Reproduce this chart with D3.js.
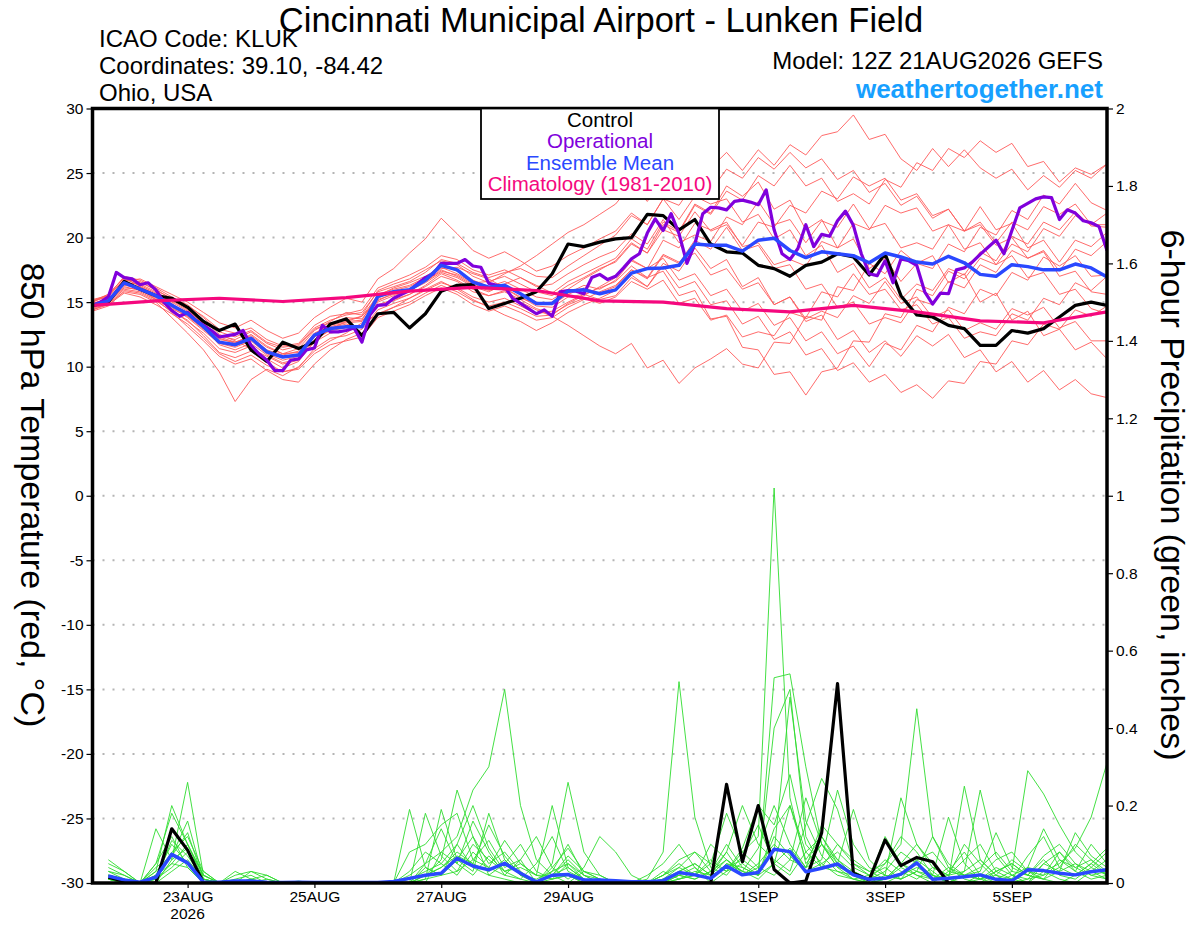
<!DOCTYPE html>
<html>
<head>
<meta charset="utf-8">
<style>
  body { margin: 0; background: #fff; }
  text { font-family: "Liberation Sans", Arial, Helvetica, sans-serif; }
</style>
</head>
<body>
<svg width="1200" height="927"></svg>
<script src="https://d3js.org/d3.v7.min.js"></script>
<script>
// ---- data -------------------------------------------------------------
const runStart = Date.UTC(2026, 7, 21, 12);   // 12Z 21AUG2026
const H = 3600 * 1000;

// 6-hourly, step 0..64
const ctrlTemp = [14.75, 15.0, 16.6, 16.0, 15.5, 15.3, 14.6, 13.5, 12.8, 13.3,
  11.3, 10.4, 11.9, 11.4, 11.9, 13.3, 13.7, 12.4, 14.1, 14.2,
  13.0, 14.1, 15.85, 16.3, 16.35, 14.5, 14.9, 15.3, 15.8, 17.2,
  19.5, 19.3, 19.65, 19.9, 20.0, 21.8, 21.7, 20.6, 21.4, 19.5,
  18.9, 18.8, 17.85, 17.6, 17.0, 17.85, 18.1, 18.75, 18.5, 17.1,
  18.75, 15.5, 14.0, 13.85, 13.2, 12.95, 11.65, 11.65, 12.8, 12.6,
  12.95, 13.85, 14.75, 15.0, 14.75];

const meanTemp = [14.75, 15.1, 16.5, 16.0, 15.5, 14.75, 14.1, 13.1, 11.9, 11.7,
  12.2, 11.15, 10.75, 10.9, 12.45, 12.95, 13.1, 13.1, 15.45, 15.8,
  15.95, 16.7, 17.85, 17.5, 16.55, 16.15, 16.3, 15.65, 14.9, 14.9,
  15.85, 15.95, 15.65, 15.95, 17.25, 17.6, 17.65, 17.85, 19.5, 19.4,
  19.4, 18.95, 19.8, 19.95, 19.0, 18.45, 18.9, 18.75, 18.6, 18.05,
  18.8, 18.5, 18.1, 17.95, 18.55, 18.05, 17.15, 17.0, 17.9, 17.75,
  17.5, 17.5, 17.95, 17.65, 16.95];

// operational run, 3-hourly, step 0..128
const operTemp = [14.75, 15.0, 15.4, 17.3, 16.9, 16.8, 16.35, 16.5, 15.95, 15.0,
  14.35, 13.9, 14.2, 13.6, 13.2, 12.8, 12.3, 12.4, 12.5, 12.8,
  11.65, 11.0, 10.5, 9.7, 9.7, 10.5, 10.6, 11.3, 11.45, 13.2,
  12.7, 12.7, 12.8, 13.0, 11.9, 14.0, 14.75, 14.8, 15.3, 15.6,
  15.9, 16.4, 16.9, 17.2, 18.0, 18.0, 18.0, 18.3, 17.8, 17.7,
  16.45, 16.3, 16.2, 15.3, 14.9, 14.5, 14.1, 14.4, 13.9, 15.8,
  15.9, 15.85, 15.65, 16.9, 17.15, 16.75, 17.0, 17.65, 18.35, 18.75,
  20.35, 21.45, 20.55, 21.85, 20.3, 18.0, 19.5, 21.85, 22.35, 22.3,
  22.15, 22.8, 22.9, 22.75, 22.55, 23.7, 20.6, 18.75, 18.3, 19.15,
  21.0, 19.3, 20.25, 20.1, 21.3, 22.05, 20.95, 18.75, 17.2, 17.05,
  18.2, 16.5, 18.35, 18.2, 17.85, 15.8, 14.85, 15.7, 15.65, 17.5,
  17.65, 18.1, 18.7, 19.25, 19.8, 18.75, 20.55, 22.3, 22.65, 23.0,
  23.15, 23.1, 21.4, 22.15, 21.9, 21.3, 21.15, 20.85, 19.0];

// climatology, daily at 12Z, day 0..16
const climTemp = [14.75, 15.1, 15.3, 15.05, 15.35, 15.85, 16.15, 15.9, 15.1,
  15.0, 14.5, 14.25, 14.75, 14.25, 13.55, 13.4, 14.25];

// ensemble members, 6-hourly, step 0..64
const tempMembers = [
  [14.8, 15.3, 16.4, 16.2, 15.6, 14.9, 14.0, 13.0, 12.2, 11.8, 12.5,
   11.6, 11.0, 11.4, 12.8, 13.5, 14.2, 14.0, 15.9, 16.4, 16.8, 17.5,
   18.2, 17.9, 17.0, 16.5, 17.2, 17.8, 18.6, 19.5, 20.4, 21.0, 21.8,
   22.6, 24.1, 22.8, 24.6, 25.3, 23.9, 25.4, 26.6, 25.2, 26.8,
   25.6, 27.2, 26.4, 27.9, 28.2, 29.5, 27.6, 28.0, 26.1, 25.2,
   26.9, 25.5, 26.8, 25.4, 24.6, 25.3, 23.7, 24.8, 23.9, 25.2, 24.6, 25.7],
  [14.5, 14.9, 15.8, 15.6, 15.0, 13.8, 12.6, 11.3, 9.6, 7.3, 9.0,
   9.8, 9.3, 10.0, 11.2, 12.0, 12.6, 13.4, 14.0, 14.6, 15.3, 16.0,
   16.6, 16.0, 15.2, 14.6, 14.0, 13.5, 12.8, 13.4, 14.2, 14.8, 15.3,
   15.9, 17.1, 16.2, 18.0, 17.4, 19.2, 17.6, 18.3, 16.2, 16.9,
   14.8, 15.4, 13.5, 14.0, 12.1, 12.8, 11.1, 12.0, 10.8, 12.4,
   11.6, 12.5, 10.7, 11.3, 9.6, 10.4, 8.8, 9.7, 8.2, 9.0, 7.9, 7.6],
  [15.0, 15.6, 16.9, 16.5, 16.0, 15.2, 14.5, 13.6, 12.5, 12.0, 11.4,
   10.8, 10.2, 10.5, 11.9, 12.6, 12.8, 13.2, 14.8, 15.2, 15.6, 16.2,
   17.0, 16.6, 15.8, 15.5, 15.9, 15.0, 14.4, 13.9, 13.2, 12.4, 11.6,
   11.0, 11.8, 9.9, 10.5, 8.7, 9.9, 10.6, 11.4, 10.2, 9.9,
   11.9, 11.8, 13.9, 13.6, 16.2, 15.9, 18.0, 17.2, 19.0, 18.0,
   18.6, 16.5, 17.2, 15.0, 15.7, 13.6, 14.3, 12.4, 12.9, 11.3, 11.9, 10.6],
  [14.9, 15.2, 16.6, 16.8, 16.2, 15.6, 15.0, 14.2, 13.4, 13.0, 13.6,
   12.8, 12.2, 12.6, 13.8, 14.6, 15.3, 15.0, 16.8, 17.6, 18.8, 19.9,
   21.5, 20.3, 19.0, 18.4, 18.9, 18.2, 17.4, 17.8, 18.6, 19.2, 19.9,
   20.5, 21.9, 21.0, 23.0, 21.4, 23.2, 22.6, 23.0, 21.2, 21.8,
   19.9, 20.6, 18.6, 19.4, 17.3, 18.0, 16.1, 16.9, 15.2, 16.4,
   15.9, 17.6, 17.1, 18.9, 18.2, 20.1, 19.5, 21.2, 20.6, 22.0, 20.9, 20.8],
  [14.6, 15.0, 16.2, 15.9, 15.3, 14.4, 13.5, 12.6, 11.4, 11.1, 11.6,
   10.6, 9.9, 10.4, 12.0, 12.9, 13.5, 13.9, 15.2, 15.6, 15.9, 16.5,
   17.3, 16.9, 16.2, 15.8, 16.4, 16.9, 16.3, 15.7, 16.6, 17.2, 17.8,
   18.4, 19.9, 19.1, 21.2, 20.5, 22.6, 21.9, 24.0, 23.2, 24.3,
   22.2, 22.9, 20.6, 21.4, 19.2, 19.9, 17.6, 18.4, 16.6, 18.0,
   17.6, 19.5, 18.9, 20.8, 20.2, 22.1, 21.4, 23.3, 22.6, 24.2, 22.7, 22.1],
  [15.1, 15.4, 16.8, 16.3, 15.7, 15.0, 14.3, 13.4, 12.3, 11.9, 12.3,
   11.3, 10.9, 11.2, 12.6, 13.2, 13.5, 13.6, 15.6, 16.0, 16.3, 16.9,
   17.9, 17.4, 16.7, 16.2, 16.6, 16.0, 15.4, 15.2, 16.0, 16.8, 17.5,
   18.2, 19.6, 18.8, 21.0, 20.4, 22.5, 21.8, 23.6, 22.9, 24.8,
   24.0, 25.6, 24.0, 24.6, 22.8, 23.4, 22.6, 24.5, 23.9, 25.8,
   25.2, 26.9, 26.2, 27.5, 26.6, 27.3, 25.5, 25.9, 24.3, 25.4, 24.9, 25.7],
  [14.4, 14.8, 15.7, 15.4, 14.8, 14.1, 13.3, 12.2, 11.0, 10.4, 10.9,
   10.1, 9.6, 9.9, 11.4, 12.2, 12.4, 12.9, 14.4, 14.9, 15.3, 15.9,
   16.5, 16.1, 15.4, 15.0, 15.3, 14.7, 14.1, 14.3, 15.0, 15.6, 16.1,
   16.6, 17.8, 16.9, 17.4, 15.5, 15.9, 13.7, 13.9, 11.5, 11.3,
   9.4, 9.6, 7.8, 9.6, 9.9, 12.0, 11.9, 14.1, 13.8, 16.0,
   15.5, 17.4, 16.8, 18.4, 17.9, 18.6, 16.9, 17.3, 15.6, 16.0, 14.5, 14.1],
  [14.7, 15.1, 16.3, 16.1, 15.4, 14.6, 13.8, 12.8, 11.8, 11.5, 12.0,
   11.0, 10.5, 10.8, 12.3, 13.0, 13.3, 13.0, 15.0, 15.5, 15.9, 16.6,
   17.4, 17.1, 16.4, 16.0, 16.1, 15.4, 14.7, 14.6, 15.4, 15.6, 15.2,
   15.5, 16.9, 16.2, 17.8, 16.1, 16.6, 14.8, 15.1, 13.3, 13.9,
   12.1, 12.7, 10.9, 11.4, 9.7, 10.3, 8.8, 9.4, 8.0, 8.6,
   7.55, 8.9, 8.7, 10.4, 10.2, 12.0, 11.7, 13.3, 12.9, 14.4, 13.9, 14.7],
  [15.2, 15.5, 17.0, 16.7, 16.1, 15.4, 14.7, 13.9, 12.9, 12.6, 13.0,
   12.1, 11.6, 11.8, 13.2, 13.9, 14.1, 14.4, 16.1, 16.6, 17.1, 17.7,
   18.6, 18.3, 17.5, 17.1, 17.5, 16.9, 16.2, 16.4, 17.2, 17.9, 18.5,
   19.0, 20.3, 19.5, 21.4, 19.6, 20.2, 19.7, 21.6, 21.0, 22.8,
   21.0, 21.4, 19.6, 21.3, 20.8, 22.6, 20.7, 21.1, 19.2, 19.6,
   19.1, 21.0, 20.5, 22.4, 20.6, 21.1, 19.2, 19.8, 18.1, 19.8, 19.3, 20.4],
  [14.3, 14.7, 15.9, 15.7, 15.1, 14.3, 13.6, 12.4, 11.1, 10.7, 11.2,
   10.3, 9.6, 9.8, 11.0, 11.7, 12.0, 12.3, 13.8, 14.3, 14.8, 15.5,
   16.1, 15.6, 14.8, 14.3, 14.7, 14.2, 13.6, 13.8, 14.6, 15.2, 15.8,
   16.3, 17.5, 16.8, 18.6, 18.0, 19.8, 19.1, 20.8, 19.0, 19.4,
   17.6, 17.9, 16.0, 16.4, 14.6, 15.0, 13.3, 13.8, 13.4, 15.2,
   14.8, 16.6, 16.1, 17.9, 17.3, 19.0, 18.4, 18.9, 17.0, 17.4, 15.8, 15.6],
  [14.9, 15.3, 16.5, 16.4, 15.8, 15.1, 14.4, 13.3, 12.1, 11.9, 12.4,
   11.5, 11.0, 11.1, 12.5, 13.3, 13.8, 13.7, 15.3, 15.9, 16.2, 16.8,
   17.6, 17.7, 17.2, 16.8, 16.1, 15.3, 14.9, 15.0, 15.7, 16.3, 16.0,
   16.7, 18.2, 17.6, 19.8, 19.2, 21.1, 20.6, 21.2, 19.3, 19.6,
   17.9, 18.3, 17.8, 19.7, 19.2, 21.1, 20.6, 22.5, 21.9, 22.3,
   20.5, 21.0, 19.1, 19.6, 17.9, 19.5, 18.9, 20.7, 20.1, 21.7, 21.0, 21.9],
  [14.6, 15.0, 16.1, 16.0, 15.2, 14.5, 13.9, 13.0, 11.7, 11.3, 11.8,
   10.9, 10.3, 10.6, 12.1, 12.8, 13.0, 13.1, 14.7, 15.1, 15.6, 16.3,
   17.2, 16.7, 16.0, 15.5, 15.8, 15.2, 14.5, 14.1, 14.8, 15.3, 14.9,
   15.4, 16.6, 16.0, 16.7, 14.9, 15.3, 13.6, 14.0, 12.3, 12.7,
   12.4, 14.2, 13.8, 15.8, 15.4, 17.2, 15.6, 16.0, 14.4, 14.8,
   13.3, 13.8, 12.2, 12.7, 12.4, 14.1, 13.6, 15.3, 14.8, 16.5, 15.9, 17.0],
  [15.0, 15.5, 16.7, 16.6, 15.9, 15.3, 14.8, 13.8, 12.7, 12.3, 12.8,
   11.9, 11.5, 11.7, 13.0, 13.6, 14.0, 14.2, 15.8, 16.2, 16.6, 17.3,
   18.3, 18.0, 17.3, 16.9, 17.3, 17.6, 17.0, 16.9, 17.8, 18.6, 19.4,
   20.2, 21.7, 21.0, 23.0, 22.5, 24.3, 23.6, 25.3, 24.6, 26.2,
   25.3, 26.6, 25.4, 26.1, 24.5, 25.2, 23.5, 24.2, 22.5, 23.2,
   21.5, 22.2, 20.5, 21.2, 19.6, 21.2, 20.6, 22.4, 21.8, 22.6, 21.0, 21.0],
  [14.4, 14.9, 16.0, 15.8, 15.2, 14.2, 13.1, 12.0, 10.8, 10.2, 10.6,
   9.7, 9.0, 8.8, 10.2, 11.3, 12.1, 12.6, 14.1, 14.6, 15.0, 15.7,
   16.3, 15.8, 15.1, 14.7, 15.0, 14.5, 13.9, 14.0, 14.9, 15.5, 16.2,
   16.9, 18.3, 17.6, 18.4, 16.7, 17.2, 15.5, 16.0, 14.3, 14.9,
   13.2, 13.8, 12.0, 12.7, 11.0, 11.6, 10.0, 11.8, 11.3, 13.2,
   12.7, 14.6, 14.1, 16.0, 15.5, 17.3, 16.7, 18.5, 17.8, 18.6, 17.0, 17.1],
  [15.1, 15.6, 16.9, 16.2, 15.6, 14.8, 14.2, 13.3, 12.4, 12.1, 12.7,
   11.8, 11.3, 11.6, 12.9, 13.4, 13.6, 13.9, 15.5, 16.1, 16.5, 17.0,
   17.7, 17.2, 16.5, 16.6, 17.0, 16.4, 15.8, 15.5, 16.3, 16.9, 17.6,
   18.1, 19.5, 18.8, 20.6, 20.1, 22.0, 20.5, 21.0, 19.4, 21.2,
   20.8, 22.5, 21.9, 23.6, 23.0, 24.7, 24.0, 24.6, 22.9, 23.4,
   21.7, 22.2, 20.5, 21.0, 19.4, 20.0, 18.4, 19.0, 17.4, 19.1, 18.6, 19.7],
  [14.8, 15.2, 16.4, 16.0, 15.5, 14.7, 13.9, 12.9, 11.9, 11.6, 12.1,
   11.2, 10.7, 11.0, 12.4, 13.1, 13.4, 13.5, 15.1, 15.7, 16.0, 16.6,
   17.5, 17.0, 16.3, 15.9, 16.2, 15.6, 15.0, 14.8, 15.6, 16.1, 15.7,
   16.2, 17.5, 16.9, 18.7, 18.1, 18.8, 17.1, 17.6, 16.0, 16.5,
   14.8, 15.4, 13.7, 14.3, 13.8, 15.5, 14.9, 16.6, 14.9, 15.4,
   13.8, 14.4, 12.8, 13.4, 12.9, 14.5, 14.0, 14.6, 13.0, 13.5, 12.0, 12.0]
];

// 6-hour precipitation (inches), step 1..64
const ctrlPrecip = [0.015, 0.004, 0, 0, 0.14, 0.085, 0, 0, 0, 0,
  0, 0, 0, 0, 0, 0, 0, 0, 0, 0,
  0, 0, 0, 0, 0, 0, 0, 0, 0, 0,
  0, 0, 0, 0, 0, 0, 0, 0, 0, 0.255,
  0.055, 0.2, 0.035, 0, 0.005, 0.13, 0.515, 0.025, 0.008, 0.111,
  0.045, 0.066, 0.055, 0, 0, 0, 0, 0, 0, 0,
  0, 0, 0, 0];

const meanPrecip = [0.018, 0.008, 0.002, 0.015, 0.074, 0.052, 0.002, 0.002, 0.005, 0.005,
  0.002, 0.001, 0.002, 0.001, 0.001, 0.001, 0.001, 0.001, 0.004, 0.012,
  0.02, 0.025, 0.064, 0.044, 0.034, 0.051, 0.025, 0.003, 0.02, 0.022,
  0.008, 0.008, 0.006, 0.003, 0.003, 0.006, 0.027, 0.021, 0.012, 0.044,
  0.021, 0.027, 0.087, 0.081, 0.029, 0.038, 0.049, 0.021, 0.0095, 0.012,
  0.023, 0.052, 0.0095, 0.012, 0.016, 0.021, 0.0095, 0.006, 0.034, 0.032,
  0.025, 0.021, 0.029, 0.034];

const precipMembers = [
  [0.02, 0.01, 0, 0.05, 0.12, 0.04, 0, 0, 0, 0, 0, 0, 0, 0, 0, 0,
   0, 0, 0, 0.03, 0.08, 0.05, 0.1, 0.04, 0.02, 0.01, 0, 0, 0.03, 0.05, 0.01, 0,
   0, 0, 0.02, 0.05, 0.1, 0.04, 0, 0.03, 0.08, 0.12, 1.02, 0.22, 0.05, 0.1, 0.04, 0.01,
   0, 0, 0.02, 0.06, 0.03, 0, 0, 0.01, 0.04, 0.02, 0, 0.05, 0.08, 0.03, 0.01, 0.02],
  [0.05, 0.03, 0, 0.03, 0.2, 0.1, 0.01, 0, 0.02, 0.03, 0.01, 0, 0, 0, 0, 0,
   0, 0, 0, 0, 0.02, 0.06, 0.24, 0.12, 0.05, 0.08, 0.03, 0, 0.02, 0.06, 0.02, 0,
   0, 0, 0, 0.02, 0.06, 0.08, 0.03, 0.1, 0.04, 0.02, 0.53, 0.54, 0.3, 0.1, 0.06, 0.03,
   0.01, 0.05, 0.12, 0.08, 0.02, 0, 0.03, 0.06, 0.02, 0, 0.01, 0.02, 0.04, 0.1, 0.06, 0.03],
  [0.01, 0, 0, 0.14, 0.06, 0.09, 0, 0, 0, 0.01, 0, 0, 0, 0, 0, 0,
   0, 0, 0, 0.02, 0.05, 0.08, 0.12, 0.24, 0.3, 0.5, 0.2, 0.06, 0.02, 0, 0.03, 0.01,
   0, 0, 0, 0, 0.03, 0.05, 0.02, 0.08, 0.2, 0.1, 0.06, 0.03, 0.15, 0.27, 0.19, 0.05,
   0.02, 0.01, 0.04, 0.02, 0, 0.03, 0.08, 0.02, 0, 0, 0.04, 0.03, 0.01, 0, 0.03, 0.06],
  [0.03, 0.02, 0, 0, 0.06, 0.26, 0.02, 0, 0, 0, 0, 0, 0, 0, 0, 0,
   0, 0, 0, 0.19, 0.04, 0.02, 0.03, 0.06, 0.04, 0.02, 0.01, 0, 0.05, 0.26, 0.08, 0.02,
   0, 0, 0.01, 0.08, 0.52, 0.17, 0.04, 0.02, 0.07, 0.15, 0.05, 0.02, 0.08, 0.12, 0.06, 0.02,
   0, 0.02, 0.22, 0.1, 0.05, 0.01, 0, 0.02, 0.06, 0.08, 0.03, 0.01, 0, 0.02, 0.05, 0.02],
  [0.02, 0.01, 0, 0.02, 0.1, 0.05, 0.01, 0, 0.01, 0.02, 0, 0, 0.005, 0, 0, 0,
   0, 0, 0, 0, 0.18, 0.07, 0.03, 0.1, 0.06, 0.03, 0.05, 0.02, 0.2, 0.04, 0.01, 0,
   0, 0, 0, 0.01, 0.04, 0.02, 0.1, 0.06, 0.03, 0.01, 0.05, 0.2, 0.08, 0.04, 0.1, 0.06,
   0.03, 0.05, 0.1, 0.45, 0.12, 0.04, 0.01, 0, 0.03, 0.05, 0.02, 0.01, 0.06, 0.04, 0.02, 0.01],
  [0.01, 0, 0, 0.01, 0.04, 0.08, 0.03, 0, 0, 0, 0, 0, 0, 0, 0, 0,
   0, 0, 0, 0, 0.01, 0.19, 0.06, 0.12, 0.02, 0.05, 0.1, 0.03, 0.01, 0.02, 0, 0,
   0, 0, 0, 0, 0.02, 0.04, 0.01, 0.05, 0.03, 0.09, 0.2, 0.1, 0.04, 0.06, 0.24, 0.1,
   0.04, 0.02, 0.01, 0.03, 0.01, 0.02, 0.1, 0.05, 0.01, 0.03, 0.29, 0.23, 0.15, 0.08, 0.04, 0.02],
  [0.04, 0.02, 0, 0.03, 0.07, 0.16, 0.01, 0, 0, 0.01, 0.02, 0, 0, 0, 0, 0,
   0, 0, 0, 0, 0.02, 0.04, 0.08, 0.05, 0.15, 0.07, 0.02, 0, 0.04, 0.09, 0.03, 0.01,
   0, 0, 0, 0, 0.01, 0.03, 0.02, 0.06, 0.02, 0.04, 0.08, 0.48, 0.16, 0.07, 0.03, 0.01,
   0, 0.01, 0.05, 0.03, 0.02, 0.01, 0.25, 0.06, 0.02, 0.01, 0, 0.03, 0.05, 0.09, 0.17, 0.31],
  [0.02, 0.01, 0, 0.01, 0.05, 0.1, 0.02, 0, 0, 0, 0.01, 0, 0, 0, 0, 0,
   0, 0, 0, 0, 0.05, 0.14, 0.05, 0.16, 0.08, 0.02, 0.06, 0.12, 0.04, 0.01, 0.04, 0.12,
   0.08, 0.02, 0, 0.02, 0.05, 0.02, 0.06, 0.03, 0.05, 0.02, 0.12, 0.07, 0.03, 0.05, 0.02, 0.01,
   0.02, 0.06, 0.03, 0.01, 0.04, 0.02, 0.03, 0.24, 0.07, 0.02, 0.01, 0.05, 0.03, 0.13, 0.07, 0.04],
  [0.01, 0, 0, 0, 0.03, 0.06, 0.01, 0, 0, 0, 0, 0, 0, 0, 0, 0,
   0, 0, 0, 0, 0.01, 0.02, 0.06, 0.03, 0.18, 0.06, 0.02, 0.01, 0.03, 0.1, 0.02, 0,
   0, 0, 0, 0.01, 0.03, 0.05, 0.02, 0.04, 0.06, 0.03, 0.4, 0.5, 0.12, 0.04, 0.03, 0.02,
   0, 0.01, 0.02, 0.04, 0.02, 0.17, 0.05, 0.01, 0, 0.02, 0.04, 0.14, 0.06, 0.03, 0.1, 0.05],
  [0.03, 0.01, 0, 0.02, 0.08, 0.12, 0.03, 0, 0, 0, 0, 0, 0, 0, 0, 0,
   0, 0, 0, 0, 0.04, 0.02, 0.1, 0.2, 0.09, 0.03, 0.04, 0.02, 0.01, 0.05, 0.02, 0.01,
   0, 0, 0, 0.03, 0.01, 0.02, 0.05, 0.18, 0.08, 0.04, 0.02, 0.06, 0.04, 0.1, 0.05, 0.19,
   0.06, 0.02, 0.01, 0.03, 0.12, 0.05, 0.02, 0.04, 0.08, 0.03, 0.02, 0.06, 0.02, 0.01, 0.04, 0.08],
  [0.02, 0, 0, 0.05, 0.18, 0.1, 0.02, 0, 0.03, 0.01, 0, 0, 0, 0, 0, 0,
   0, 0, 0, 0.01, 0.03, 0.05, 0.02, 0.08, 0.04, 0.11, 0.05, 0.02, 0.02, 0.04, 0.01, 0,
   0, 0, 0, 0, 0.02, 0.01, 0.03, 0.08, 0.02, 0.05, 0.1, 0.06, 0.22, 0.1, 0.04, 0.03,
   0.01, 0.03, 0.08, 0.05, 0.02, 0, 0.02, 0.03, 0.13, 0.04, 0.02, 0.01, 0.03, 0.05, 0.02, 0.03],
  [0.01, 0, 0, 0.02, 0.05, 0.04, 0, 0, 0, 0, 0, 0, 0, 0, 0, 0,
   0, 0, 0, 0, 0.02, 0.04, 0.07, 0.05, 0.03, 0.06, 0.02, 0, 0.01, 0.02, 0, 0,
   0, 0, 0, 0, 0.01, 0.02, 0.01, 0.05, 0.04, 0.02, 0.14, 0.2, 0.06, 0.12, 0.05, 0.02,
   0.01, 0.12, 0.05, 0.02, 0.01, 0.04, 0.02, 0.01, 0.02, 0.06, 0.03, 0.02, 0.08, 0.04, 0.06, 0.02],
  [0.06, 0.03, 0, 0.01, 0.11, 0.07, 0.01, 0, 0, 0.03, 0.02, 0, 0, 0, 0, 0,
   0, 0, 0, 0.08, 0.1, 0.15, 0.18, 0.06, 0.11, 0.04, 0.06, 0, 0.02, 0.07, 0.03, 0.02,
   0, 0, 0, 0.02, 0.04, 0.08, 0.05, 0.03, 0.09, 0.2, 0.15, 0.28, 0.1, 0.05, 0.08, 0.04,
   0.02, 0.04, 0.01, 0.06, 0.08, 0.03, 0.02, 0.01, 0.03, 0.05, 0.02, 0.07, 0.1, 0.05, 0.03, 0.01],
  [0.02, 0.01, 0, 0.04, 0.07, 0.13, 0.01, 0, 0, 0, 0, 0, 0, 0, 0, 0,
   0, 0, 0, 0, 0, 0.08, 0.05, 0.02, 0.07, 0.03, 0.01, 0.05, 0.12, 0.03, 0.01, 0,
   0, 0, 0, 0.01, 0.02, 0.01, 0.03, 0.06, 0.03, 0.02, 0.05, 0.09, 0.04, 0.15, 0.1, 0.05,
   0.03, 0.01, 0.05, 0.1, 0.04, 0.02, 0.06, 0.1, 0.03, 0.01, 0.07, 0.12, 0.04, 0.02, 0.05, 0.09]
];

const tempTicks = [-30, -25, -20, -15, -10, -5, 0, 5, 10, 15, 20, 25, 30];
const precipTicks = [0, 0.2, 0.4, 0.6, 0.8, 1, 1.2, 1.4, 1.6, 1.8, 2];
const dateTicks = ["2026-08-23", "2026-08-25", "2026-08-27", "2026-08-29",
  "2026-09-01", "2026-09-03", "2026-09-05"];

// ---- layout -----------------------------------------------------------
const svg = d3.select("svg");
const plotL = 92.5, plotR = 1107, plotT = 108.5, plotB = 883;

const x = d3.scaleUtc()
  .domain([new Date(runStart), new Date(runStart + 384 * H)])
  .range([plotL, plotR]);
const yT = d3.scaleLinear().domain([-30, 30]).range([plotB, plotT]);
const yP = d3.scaleLinear().domain([0, 2]).range([plotB, plotT]);

svg.append("rect").attr("width", 1200).attr("height", 927).attr("fill", "#fff");

svg.append("defs").append("clipPath").attr("id", "plot")
  .append("rect").attr("x", plotL).attr("y", plotT)
  .attr("width", plotR - plotL).attr("height", plotB - plotT);

// dotted grid on the temperature ticks
svg.append("g").selectAll("line")
  .data(tempTicks.filter(d => d > -30 && d < 30))
  .join("line")
  .attr("x1", plotL).attr("x2", plotR)
  .attr("y1", d => yT(d)).attr("y2", d => yT(d))
  .attr("stroke", "#b4b4b4").attr("stroke-width", 2)
  .attr("stroke-dasharray", "2 8");

const plot = svg.append("g").attr("clip-path", "url(#plot)");

const lineT6 = d3.line().x((d, i) => x(new Date(runStart + i * 6 * H))).y(d => yT(d));
const lineT3 = d3.line().x((d, i) => x(new Date(runStart + i * 3 * H))).y(d => yT(d));
const lineT24 = d3.line().x((d, i) => x(new Date(runStart + i * 24 * H))).y(d => yT(d));
const lineP = d3.line().x((d, i) => x(new Date(runStart + (i + 1) * 6 * H))).y(d => yP(d));

plot.append("g").selectAll("path").data(precipMembers).join("path")
  .attr("d", lineP).attr("fill", "none")
  .attr("stroke", "#2fdc2f").attr("stroke-width", 0.9);

plot.append("g").selectAll("path").data(tempMembers).join("path")
  .attr("d", lineT6).attr("fill", "none")
  .attr("stroke", "#ff5a5a").attr("stroke-width", 0.9);

plot.append("path").datum(ctrlPrecip).attr("d", lineP)
  .attr("fill", "none").attr("stroke", "#000").attr("stroke-width", 3.2)
  .attr("stroke-linejoin", "round");
plot.append("path").datum(meanPrecip).attr("d", lineP)
  .attr("fill", "none").attr("stroke", "#2a48ff").attr("stroke-width", 3.5)
  .attr("stroke-linejoin", "round");

plot.append("path").datum(ctrlTemp).attr("d", lineT6)
  .attr("fill", "none").attr("stroke", "#000").attr("stroke-width", 3.2)
  .attr("stroke-linejoin", "round");
plot.append("path").datum(operTemp).attr("d", lineT3)
  .attr("fill", "none").attr("stroke", "#8000dc").attr("stroke-width", 3.2)
  .attr("stroke-linejoin", "round");
plot.append("path").datum(meanTemp).attr("d", lineT6)
  .attr("fill", "none").attr("stroke", "#2a48ff").attr("stroke-width", 3.5)
  .attr("stroke-linejoin", "round");
plot.append("path").datum(climTemp).attr("d", lineT24)
  .attr("fill", "none").attr("stroke", "#f5087e").attr("stroke-width", 3.2)
  .attr("stroke-linejoin", "round");

// ---- axes -------------------------------------------------------------
const axL = svg.append("g").attr("transform", `translate(${plotL},0)`)
  .call(d3.axisLeft(yT).tickValues(tempTicks).tickSize(6).tickFormat(d => String(d)));
const axR = svg.append("g").attr("transform", `translate(${plotR},0)`)
  .call(d3.axisRight(yP).tickValues(precipTicks).tickSize(6).tickFormat(d => String(d)));
const axB = svg.append("g").attr("transform", `translate(0,${plotB})`)
  .call(d3.axisBottom(x).tickValues(dateTicks.map(s => new Date(s + "T00:00:00Z")))
    .tickSize(5).tickFormat(d => d3.utcFormat("%-d%b")(d).toUpperCase()));

[axL, axR, axB].forEach(g => {
  g.select(".domain").remove();
  g.selectAll("line").attr("stroke", "#000").attr("stroke-width", 1.2);
  g.selectAll("text").attr("fill", "#000").style("font-size", "15.5px")
    .style("font-family", '"Liberation Sans", Arial, sans-serif');
});

svg.append("text").attr("x", x(new Date("2026-08-23T00:00:00Z"))).attr("y", 919)
  .attr("text-anchor", "middle").style("font-size", "15.5px").text("2026");

svg.append("rect").attr("x", plotL).attr("y", plotT)
  .attr("width", plotR - plotL).attr("height", plotB - plotT)
  .attr("fill", "none").attr("stroke", "#000").attr("stroke-width", 3.5);

// ---- legend -----------------------------------------------------------
const legend = svg.append("g");
legend.append("rect").attr("x", 481).attr("y", plotT).attr("width", 238).attr("height", 90.5)
  .attr("fill", "#fff").attr("stroke", "#000").attr("stroke-width", 1.8);
const legendItems = [
  ["Control", "#000"], ["Operational", "#8000dc"],
  ["Ensemble Mean", "#2a48ff"], ["Climatology (1981-2010)", "#f5087e"]];
legend.selectAll("text").data(legendItems).join("text")
  .attr("x", 600).attr("y", (d, i) => 127 + i * 21.3)
  .attr("text-anchor", "middle").attr("fill", d => d[1])
  .style("font-size", "20.5px").text(d => d[0]);

// ---- titles -----------------------------------------------------------
svg.append("text").attr("x", 601).attr("y", 31.5).attr("text-anchor", "middle")
  .style("font-size", "34.5px").text("Cincinnati Municipal Airport - Lunken Field");

const info = ["ICAO Code: KLUK", "Coordinates: 39.10, -84.42", "Ohio, USA"];
svg.append("g").selectAll("text").data(info).join("text")
  .attr("x", 99).attr("y", (d, i) => 47 + i * 27)
  .style("font-size", "24px").text(d => d);

svg.append("text").attr("x", 1103).attr("y", 69).attr("text-anchor", "end")
  .style("font-size", "24px").text("Model: 12Z 21AUG2026 GEFS");
svg.append("text").attr("x", 1103).attr("y", 98).attr("text-anchor", "end")
  .attr("fill", "#17a0ff").style("font-size", "26px").style("font-weight", "bold")
  .text("weathertogether.net");

svg.append("text").attr("transform", "translate(21,495) rotate(90)")
  .attr("text-anchor", "middle").style("font-size", "34px")
  .text("850 hPa Temperature (red, °C)");
svg.append("text").attr("transform", "translate(1161,495) rotate(90)")
  .attr("text-anchor", "middle").style("font-size", "34px")
  .text("6-hour Precipitation (green, inches)");
</script>
</body>
</html>
